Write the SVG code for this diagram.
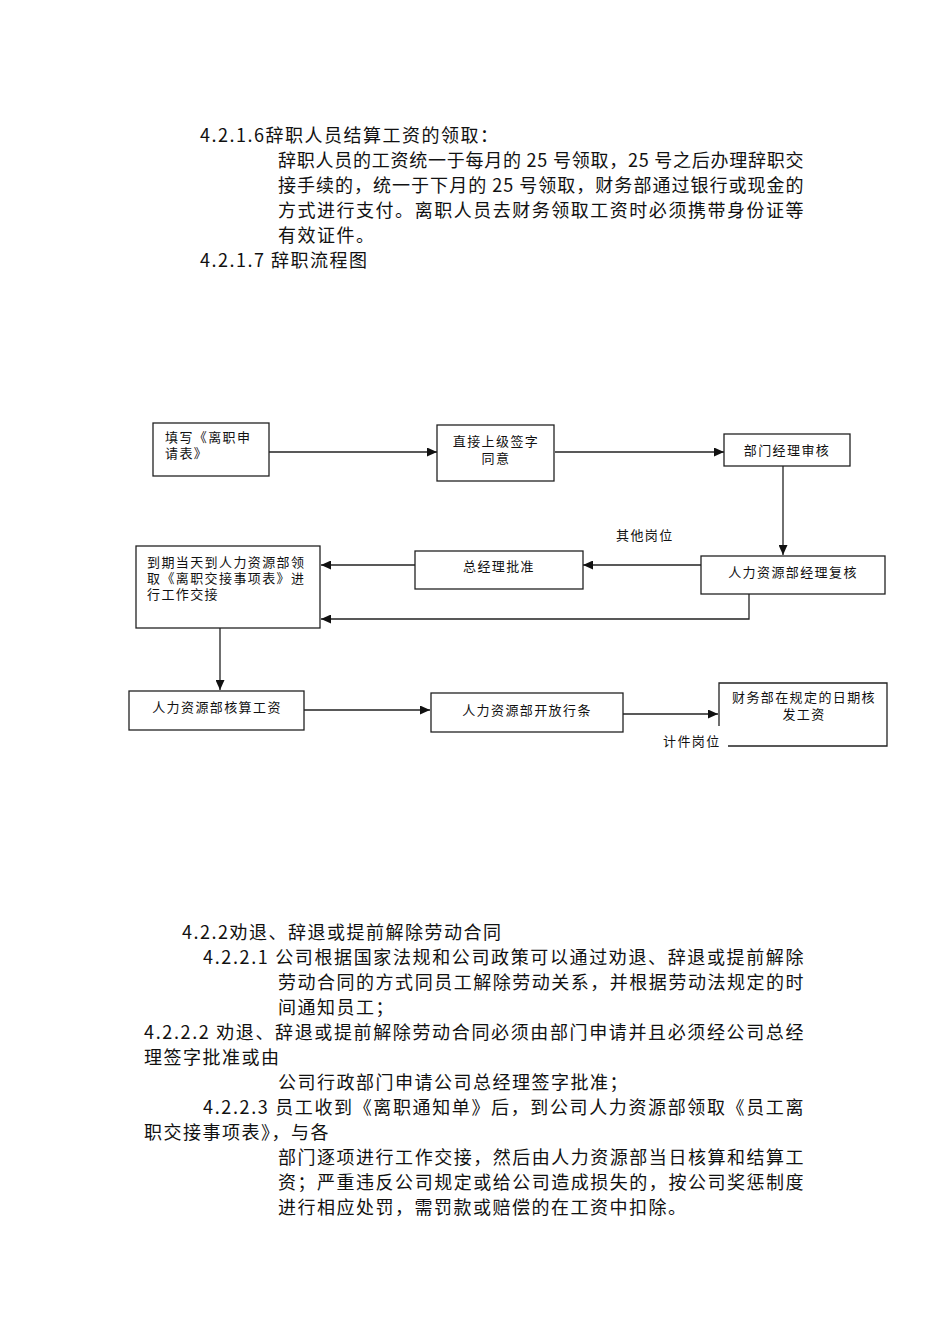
<svg xmlns="http://www.w3.org/2000/svg" width="950" height="1344" viewBox="0 0 950 1344">
<style>
.body{font-family:"Noto Sans CJK SC","Liberation Sans",sans-serif;font-size:18px;letter-spacing:1.5px;fill:#111}
.box{fill:#fff;stroke:#222;stroke-width:1.3}
.lbl{font-family:"Liberation Sans","Noto Sans CJK SC",sans-serif;font-size:13px;letter-spacing:1.4px;fill:#111}
.c{text-anchor:middle}
.ln{stroke:#222;stroke-width:1.3;fill:none}
</style>
<defs>
<marker id="ah" viewBox="0 0 10 10" refX="10" refY="5" markerWidth="10" markerHeight="9" markerUnits="userSpaceOnUse" orient="auto" preserveAspectRatio="none">
<path d="M0,0 L10,5 L0,10 Z" fill="#111"/>
</marker>
</defs>
<rect width="950" height="1344" fill="#fff"/>

<g id="text-top" class="body">
<text x="200" y="142">4.2.1.6辞职人员结算工资的领取：</text>
<text x="278" y="167" textLength="527" lengthAdjust="spacing">辞职人员的工资统一于每月的 25 号领取，25 号之后办理辞职交</text>
<text x="278" y="192" textLength="527" lengthAdjust="spacing">接手续的，统一于下月的 25 号领取，财务部通过银行或现金的</text>
<text x="278" y="217" textLength="527" lengthAdjust="spacing">方式进行支付。离职人员去财务领取工资时必须携带身份证等</text>
<text x="278" y="242">有效证件。</text>
<text x="200" y="267">4.2.1.7 辞职流程图</text>
</g>

<g id="connectors">
<line class="ln" x1="269" y1="452" x2="437" y2="452" marker-end="url(#ah)"/>
<line class="ln" x1="555" y1="452" x2="724" y2="452" marker-end="url(#ah)"/>
<line class="ln" x1="783" y1="466" x2="783" y2="555" marker-end="url(#ah)"/>
<line class="ln" x1="701" y1="565" x2="583" y2="565" marker-end="url(#ah)"/>
<line class="ln" x1="415" y1="565" x2="321" y2="565" marker-end="url(#ah)"/>
<polyline class="ln" points="749,594 749,619 321,619" marker-end="url(#ah)"/>
<line class="ln" x1="220" y1="628" x2="220" y2="690" marker-end="url(#ah)"/>
<line class="ln" x1="304" y1="710" x2="430" y2="710" marker-end="url(#ah)"/>
<line class="ln" x1="623" y1="714" x2="718" y2="714" marker-end="url(#ah)"/>
<text class="lbl" x="616" y="540">其他岗位</text>
<text class="lbl" x="663" y="746">计件岗位</text>
</g>

<g id="n1">
<rect class="box" x="153" y="423" width="116" height="53"/>
<text class="lbl" x="165" y="442">填写《离职申</text>
<text class="lbl" x="165" y="458">请表》</text>
</g>
<g id="n2">
<rect class="box" x="437" y="425" width="117" height="56"/>
<text class="lbl c" x="496" y="446">直接上级签字</text>
<text class="lbl c" x="496" y="463">同意</text>
</g>
<g id="n3">
<rect class="box" x="724" y="434" width="126" height="32"/>
<text class="lbl c" x="787" y="455">部门经理审核</text>
</g>
<g id="n4">
<rect class="box" x="701" y="556" width="184" height="38"/>
<text class="lbl c" x="793" y="577">人力资源部经理复核</text>
</g>
<g id="n5">
<rect class="box" x="415" y="551" width="168" height="38"/>
<text class="lbl c" x="499" y="571">总经理批准</text>
</g>
<g id="n6">
<rect class="box" x="136" y="546" width="184" height="82"/>
<text class="lbl" x="147" y="567">到期当天到人力资源部领</text>
<text class="lbl" x="147" y="583">取《离职交接事项表》进</text>
<text class="lbl" x="147" y="599">行工作交接</text>
</g>
<g id="n7">
<rect class="box" x="129" y="691" width="175" height="39"/>
<text class="lbl c" x="217" y="712">人力资源部核算工资</text>
</g>
<g id="n8">
<rect class="box" x="431" y="693" width="192" height="39"/>
<text class="lbl c" x="527" y="715">人力资源部开放行条</text>
</g>
<g id="n9">
<polyline class="ln" points="719,726 719,683 887,683 887,746 728,746"/>
<text class="lbl c" x="804" y="702">财务部在规定的日期核</text>
<text class="lbl c" x="804" y="719">发工资</text>
</g>

<g id="text-bottom" class="body">
<text x="182" y="939">4.2.2劝退、辞退或提前解除劳动合同</text>
<text x="203" y="964" textLength="602" lengthAdjust="spacing">4.2.2.1 公司根据国家法规和公司政策可以通过劝退、辞退或提前解除</text>
<text x="278" y="989" textLength="527" lengthAdjust="spacing">劳动合同的方式同员工解除劳动关系，并根据劳动法规定的时</text>
<text x="278" y="1014">间通知员工；</text>
<text x="144" y="1039" textLength="661" lengthAdjust="spacing">4.2.2.2 劝退、辞退或提前解除劳动合同必须由部门申请并且必须经公司总经</text>
<text x="144" y="1064">理签字批准或由</text>
<text x="278" y="1089">公司行政部门申请公司总经理签字批准；</text>
<text x="203" y="1114" textLength="602" lengthAdjust="spacing">4.2.2.3 员工收到《离职通知单》后，到公司人力资源部领取《员工离</text>
<text x="144" y="1139">职交接事项表》，与各</text>
<text x="278" y="1164" textLength="527" lengthAdjust="spacing">部门逐项进行工作交接，然后由人力资源部当日核算和结算工</text>
<text x="278" y="1189" textLength="527" lengthAdjust="spacing">资；严重违反公司规定或给公司造成损失的，按公司奖惩制度</text>
<text x="278" y="1214">进行相应处罚，需罚款或赔偿的在工资中扣除。</text>
</g>
</svg>
